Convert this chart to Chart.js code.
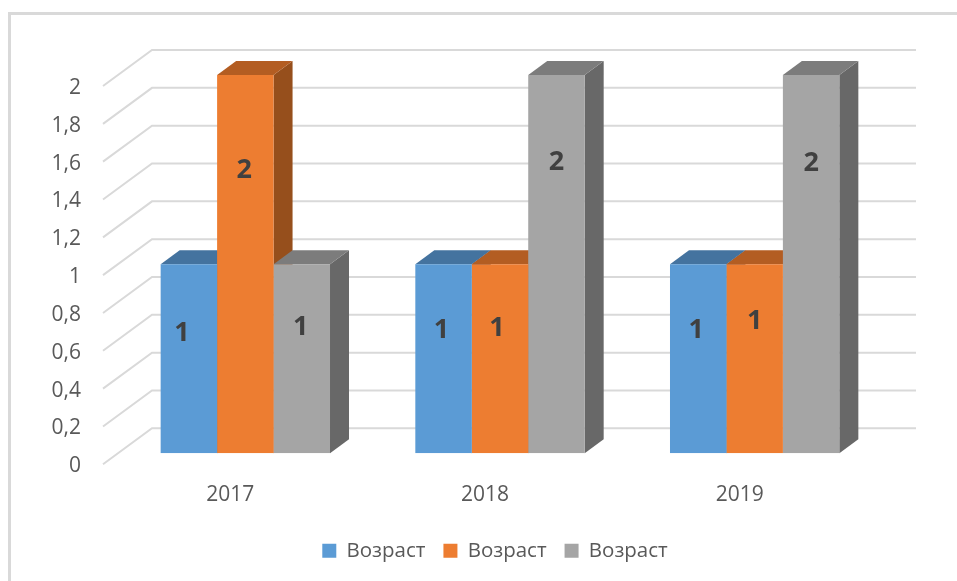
<!DOCTYPE html>
<html>
<head>
<meta charset="utf-8">
<script src="https://cdn.jsdelivr.net/npm/chart.js@4"></script>
<style>
    html, body { margin: 0; background: #fff; overflow: hidden; }
    #wrap { position: relative; width: 957px; height: 581px; }
    #frame { position: absolute; left: 8px; top: 12px; right: 0; bottom: 0; border-left: 3px solid #d9d9d9; border-top: 3px solid #d9d9d9; }
</style>
</head>
<body>
<div id="wrap">
    <div id="frame"></div>
    <canvas id="ageChart"></canvas>
</div>
<script>
const categories = ['2017', '2018', '2019'];
const seriesNames = ['Возраст', 'Возраст', 'Возраст'];
const seriesA = [1, 1, 1];
const seriesB = [2, 1, 1];
const seriesC = [1, 2, 2];
const yTickLabels = ['0', '0,2', '0,4', '0,6', '0,8', '1', '1,2', '1,4', '1,6', '1,8', '2'];

// office-style front / top / side shades
const frontColors = ['#5B9BD5', '#ED7D31', '#A5A5A5'];
const topColors = ['#44739F', '#B35D22', '#7C7C7C'];
const sideColors = ['#38608A', '#964F1C', '#686868'];

// fake depth of the 3D look, in px
const barDepth = { x: 19, y: 14 };
const wallBack = { x: 34, y: 25 };
const wallFront = { x: 15, y: 11 };

// value labels sit higher than centre in the original, nudged by hand [dx, dy]
const labelNudge = [
    [[-7, -25], [-1, -94], [-1, -31]],
    [[-2, -28], [-3, -30], [0, -102]],
    [[-2, -28], [0, -37], [0, -101]]
];

const walls = {
    id: 'walls',
    afterLayout(chart) {
        // legend sits a little left of the plot centre and above the bottom padding
        chart.legend.left -= 10;
        chart.legend.top -= 6;
    },
    beforeDatasetsDraw(chart) {
        const { ctx, chartArea, scales } = chart;
        ctx.save();
        ctx.strokeStyle = '#d9d9d9';
        ctx.lineWidth = 2;
        scales.y.ticks.forEach(t => {
            const y = scales.y.getPixelForValue(t.value);
            ctx.beginPath();
            ctx.moveTo(chartArea.left - wallFront.x, y + wallFront.y);
            ctx.lineTo(chartArea.left + wallBack.x, y - wallBack.y);
            ctx.lineTo(chartArea.right + wallBack.x, y - wallBack.y);
            ctx.stroke();
        });
        // tops and sides, series by series, fronts come from the library after this
        chart.data.datasets.forEach((ds, i) => {
            chart.getDatasetMeta(i).data.forEach(bar => {
                const l = bar.x - bar.width / 2;
                const r = bar.x + bar.width / 2;
                ctx.fillStyle = sideColors[i];
                ctx.beginPath();
                ctx.moveTo(r, bar.y);
                ctx.lineTo(r + barDepth.x, bar.y - barDepth.y);
                ctx.lineTo(r + barDepth.x, bar.base - barDepth.y);
                ctx.lineTo(r, bar.base);
                ctx.closePath();
                ctx.fill();
                ctx.fillStyle = topColors[i];
                ctx.beginPath();
                ctx.moveTo(l, bar.y);
                ctx.lineTo(l + barDepth.x, bar.y - barDepth.y);
                ctx.lineTo(r + barDepth.x, bar.y - barDepth.y);
                ctx.lineTo(r, bar.y);
                ctx.closePath();
                ctx.fill();
            });
        });
        ctx.restore();
    },
    afterDatasetsDraw(chart) {
        const { ctx, scales } = chart;
        ctx.save();
        ctx.fillStyle = '#404040';
        ctx.font = 'bold 27px "Open Sans"';
        ctx.textAlign = 'center';
        ctx.textBaseline = 'middle';
        chart.data.datasets.forEach((ds, i) => {
            chart.getDatasetMeta(i).data.forEach((bar, j) => {
                const mid = scales.y.getPixelForValue(ds.data[j] / 2);
                const n = labelNudge[j][i];
                ctx.fillText(String(ds.data[j]), bar.x + n[0], mid + n[1]);
            });
        });
        ctx.restore();
    }
};

document.addEventListener('DOMContentLoaded', () => {
    new Chart(document.getElementById('ageChart'), {
        type: 'bar',
        data: {
            labels: categories,
            datasets: [
                { label: seriesNames[0], data: seriesA, backgroundColor: frontColors[0] },
                { label: seriesNames[1], data: seriesB, backgroundColor: frontColors[1] },
                { label: seriesNames[2], data: seriesC, backgroundColor: frontColors[2] }
            ]
        },
        options: {
            responsive: true,
            maintainAspectRatio: false,
            animation: false,
            layout: { padding: { top: 75, right: 75, bottom: 4, left: 0 } },
            datasets: { bar: { barPercentage: 1, categoryPercentage: 0.665 } },
            plugins: {
                legend: {
                    position: 'bottom',
                    fullSize: false,
                    labels: { boxWidth: 14, boxHeight: 14, padding: 18, color: '#595959', font: { family: '"Open Sans"', size: 20.5 } }
                },
                tooltip: { enabled: false }
            },
            scales: {
                x: {
                    grid: { display: false },
                    border: { display: false },
                    ticks: { color: '#595959', padding: 21, labelOffset: -15, font: { family: '"Open Sans"', size: 21 } }
                },
                y: {
                    min: 0,
                    max: 2,
                    grid: { display: false },
                    border: { display: false },
                    afterFit(scale) { scale.width = 118; },
                    ticks: {
                        stepSize: 0.2,
                        padding: 29,
                        labelOffset: 13,
                        color: '#595959',
                        font: { family: '"Open Sans"', size: 21 },
                        callback: (value, index) => yTickLabels[index]
                    }
                }
            }
        },
        plugins: [walls]
    });
});
</script>
</body>
</html>
